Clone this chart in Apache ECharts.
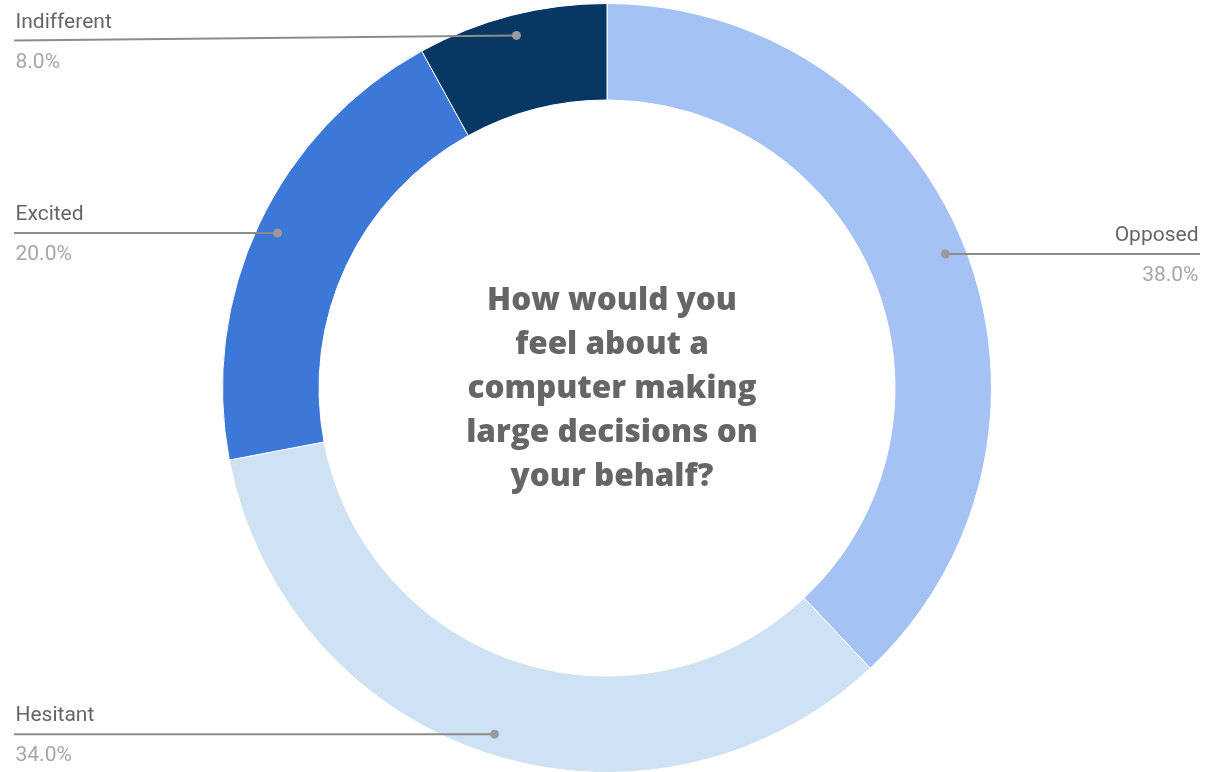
<!DOCTYPE html>
<html><head><meta charset="utf-8">
<script src="https://cdn.jsdelivr.net/npm/echarts@6/dist/echarts.min.js"></script>
<style>html,body{margin:0;padding:0;background:#fff}#c{width:1212px;height:772px}</style>
</head><body><div id="c"></div>
<script>
const categories = ['Opposed', 'Hesitant', 'Excited', 'Indifferent'];
const values = [38, 34, 20, 8];
const colors = ['#a4c2f4', '#cfe2f3', '#3c78d8', '#073763'];
const centerTitle = 'How would you\nfeel about a\ncomputer making\nlarge decisions on\nyour behalf?';

const CX = 607, CY = 388, R_OUT = 384.5, R_IN = 288, R_DOT = 364;
const W = 1212, H = 772;
const total = values.reduce((a, b) => a + b, 0);
const mids = [];
let cum = 0;
values.forEach(v => { mids.push(cum + v / 2); cum += v; });
function dotPos(i) {
  const t = mids[i] / total * Math.PI * 2;
  return [CX + R_DOT * Math.sin(t), CY - R_DOT * Math.cos(t)];
}

const leaderSeries = categories.map((c, i) => {
  const d = dotPos(i);
  const right = d[0] > CX;
  const ly = Math.min(Math.max(d[1], 40.5), H - 37);
  const ex = right ? 1200 : 14;
  return {
    type: 'line',
    z: 5,
    silent: true,
    showSymbol: true,
    lineStyle: { color: '#8c8c8c', width: 2 },
    data: [
      { value: [d[0], d[1]], symbol: 'circle', symbolSize: 9, itemStyle: { color: '#9a9a9a' } },
      {
        value: [ex, ly], symbol: 'circle', symbolSize: 1, itemStyle: { color: 'rgba(0,0,0,0)' },
        label: {
          show: true,
          position: right ? 'left' : 'right',
          distance: 1,
          offset: [0, 2],
          formatter: '{n|' + c + '}\n{p|' + values[i].toFixed(1) + '%}',
          rich: {
            n: { fontFamily: 'Roboto', fontSize: 21, color: '#666666', lineHeight: 40, align: right ? 'right' : 'left' },
            p: { fontFamily: 'Roboto', fontSize: 21, color: '#a6a6a6', lineHeight: 40, align: right ? 'right' : 'left' }
          }
        }
      }
    ]
  };
});

const chart = echarts.init(document.getElementById('c'));
chart.setOption({
  animation: false,
  title: {
    text: centerTitle,
    left: CX, top: 274, textAlign: 'center',
    textStyle: { fontFamily: 'Open Sans', fontWeight: 800, fontSize: 31.5, lineHeight: 44, color: '#666666' }
  },
  grid: { left: 0, right: 0, top: 0, bottom: 0 },
  xAxis: { type: 'value', min: 0, max: W, show: false },
  yAxis: { type: 'value', min: 0, max: H, inverse: true, show: false },
  series: [
    {
      type: 'pie',
      center: [CX, CY],
      radius: [R_IN, R_OUT],
      startAngle: 90,
      clockwise: true,
      silent: true,
      z: 1,
      data: categories.map((c, i) => ({ name: c, value: values[i], itemStyle: { color: colors[i] } })),
      itemStyle: { borderColor: '#ffffff', borderWidth: 1 },
      label: { show: false },
      labelLine: { show: false }
    }
  ].concat(leaderSeries)
});
</script></body></html>
